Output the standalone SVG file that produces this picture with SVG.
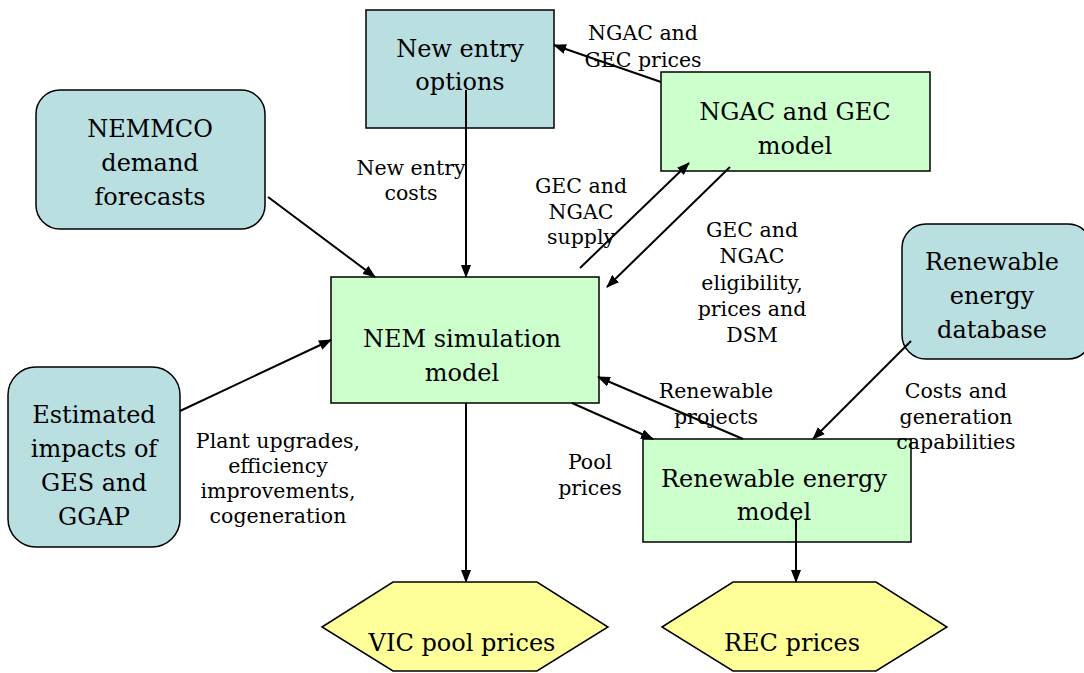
<svg xmlns="http://www.w3.org/2000/svg" width="1084" height="673" viewBox="0 0 1084 673">
<style>
.teal{fill:#B9DFE1;stroke:#000;stroke-width:1.5}
.green{fill:#CCFFCC;stroke:#000;stroke-width:1.5}
.yellow{fill:#FFFF99;stroke:#000;stroke-width:1.5}
.nt{font-family:"DejaVu Serif","Liberation Serif",serif;font-size:24px;fill:#000;text-anchor:middle}
.lt{font-family:"DejaVu Serif","Liberation Serif",serif;font-size:20.5px;fill:#000;text-anchor:middle}
.c line{stroke:#000;stroke-width:2;marker-end:url(#ah)}
</style>
<defs>
<marker id="ah" viewBox="0 0 13 10" refX="12" refY="5" markerWidth="13" markerHeight="10" markerUnits="userSpaceOnUse" orient="auto">
<path d="M0,0 L13,5 L0,10 z" fill="#000"/>
</marker>
</defs>
<rect width="1084" height="673" fill="#fff"/>

<g id="new-entry">
<rect class="teal" x="366" y="10" width="188" height="118"/>
<text class="nt" x="460" y="57">New entry</text>
<text class="nt" x="460" y="90">options</text>
</g>

<g id="ngac-model">
<rect class="green" x="661" y="72" width="269" height="99"/>
<text class="nt" x="795" y="120">NGAC and GEC</text>
<text class="nt" x="795" y="154">model</text>
</g>

<g id="nemmco">
<rect class="teal" x="36" y="90" width="229" height="139" rx="24"/>
<text class="nt" x="150" y="137">NEMMCO</text>
<text class="nt" x="150" y="171">demand</text>
<text class="nt" x="150" y="205">forecasts</text>
</g>

<g id="nem-sim">
<rect class="green" x="331" y="277" width="268" height="126"/>
<text class="nt" x="462" y="347">NEM simulation</text>
<text class="nt" x="462" y="381">model</text>
</g>

<g id="estimated">
<rect class="teal" x="8" y="367" width="172" height="180" rx="28"/>
<text class="nt" x="94" y="423">Estimated</text>
<text class="nt" x="94" y="457">impacts of</text>
<text class="nt" x="94" y="491">GES and</text>
<text class="nt" x="94" y="525">GGAP</text>
</g>

<g id="re-database">
<rect class="teal" x="902" y="224" width="190" height="135" rx="24"/>
<text class="nt" x="992" y="270">Renewable</text>
<text class="nt" x="992" y="304">energy</text>
<text class="nt" x="992" y="338">database</text>
</g>

<g id="re-model">
<rect class="green" x="643" y="439" width="268" height="103"/>
<text class="nt" x="774" y="487">Renewable energy</text>
<text class="nt" x="774" y="520">model</text>
</g>

<g id="vic-prices">
<polygon class="yellow" points="322,627 393,582 537,582 608,627 537,671 393,671"/>
<text class="nt" x="462" y="651">VIC pool prices</text>
</g>

<g id="rec-prices">
<polygon class="yellow" points="662,627 733,582 876,582 947,627 876,671 733,671"/>
<text class="nt" x="792" y="651">REC prices</text>
</g>

<g id="connectors" class="c">
<line x1="661" y1="82" x2="554" y2="45"/>
<line x1="466" y1="90" x2="466" y2="277"/>
<line x1="268" y1="197" x2="375" y2="277"/>
<line x1="180" y1="411" x2="331" y2="340"/>
<line x1="580" y1="268" x2="689" y2="163"/>
<line x1="730" y1="167" x2="607" y2="287"/>
<line x1="743" y1="439" x2="598" y2="377"/>
<line x1="572" y1="403" x2="653" y2="439"/>
<line x1="911" y1="341" x2="813" y2="439"/>
<line x1="466" y1="403" x2="466" y2="582"/>
<line x1="796" y1="518" x2="796" y2="582"/>
</g>

<g id="labels">
<text class="lt" x="643" y="40">NGAC and</text>
<text class="lt" x="643" y="67">GEC prices</text>
<text class="lt" x="411" y="175">New entry</text>
<text class="lt" x="411" y="200">costs</text>
<text class="lt" x="581" y="193">GEC and</text>
<text class="lt" x="581" y="219">NGAC</text>
<text class="lt" x="581" y="244">supply</text>
<text class="lt" x="752" y="237">GEC and</text>
<text class="lt" x="752" y="263">NGAC</text>
<text class="lt" x="752" y="290">eligibility,</text>
<text class="lt" x="752" y="316">prices and</text>
<text class="lt" x="752" y="342">DSM</text>
<text class="lt" x="716" y="398">Renewable</text>
<text class="lt" x="716" y="424">projects</text>
<text class="lt" x="956" y="398">Costs and</text>
<text class="lt" x="956" y="424">generation</text>
<text class="lt" x="956" y="449">capabilities</text>
<text class="lt" x="590" y="469">Pool</text>
<text class="lt" x="590" y="495">prices</text>
<text class="lt" x="278" y="448">Plant upgrades,</text>
<text class="lt" x="278" y="473">efficiency</text>
<text class="lt" x="278" y="498">improvements,</text>
<text class="lt" x="278" y="523">cogeneration</text>
</g>
</svg>
